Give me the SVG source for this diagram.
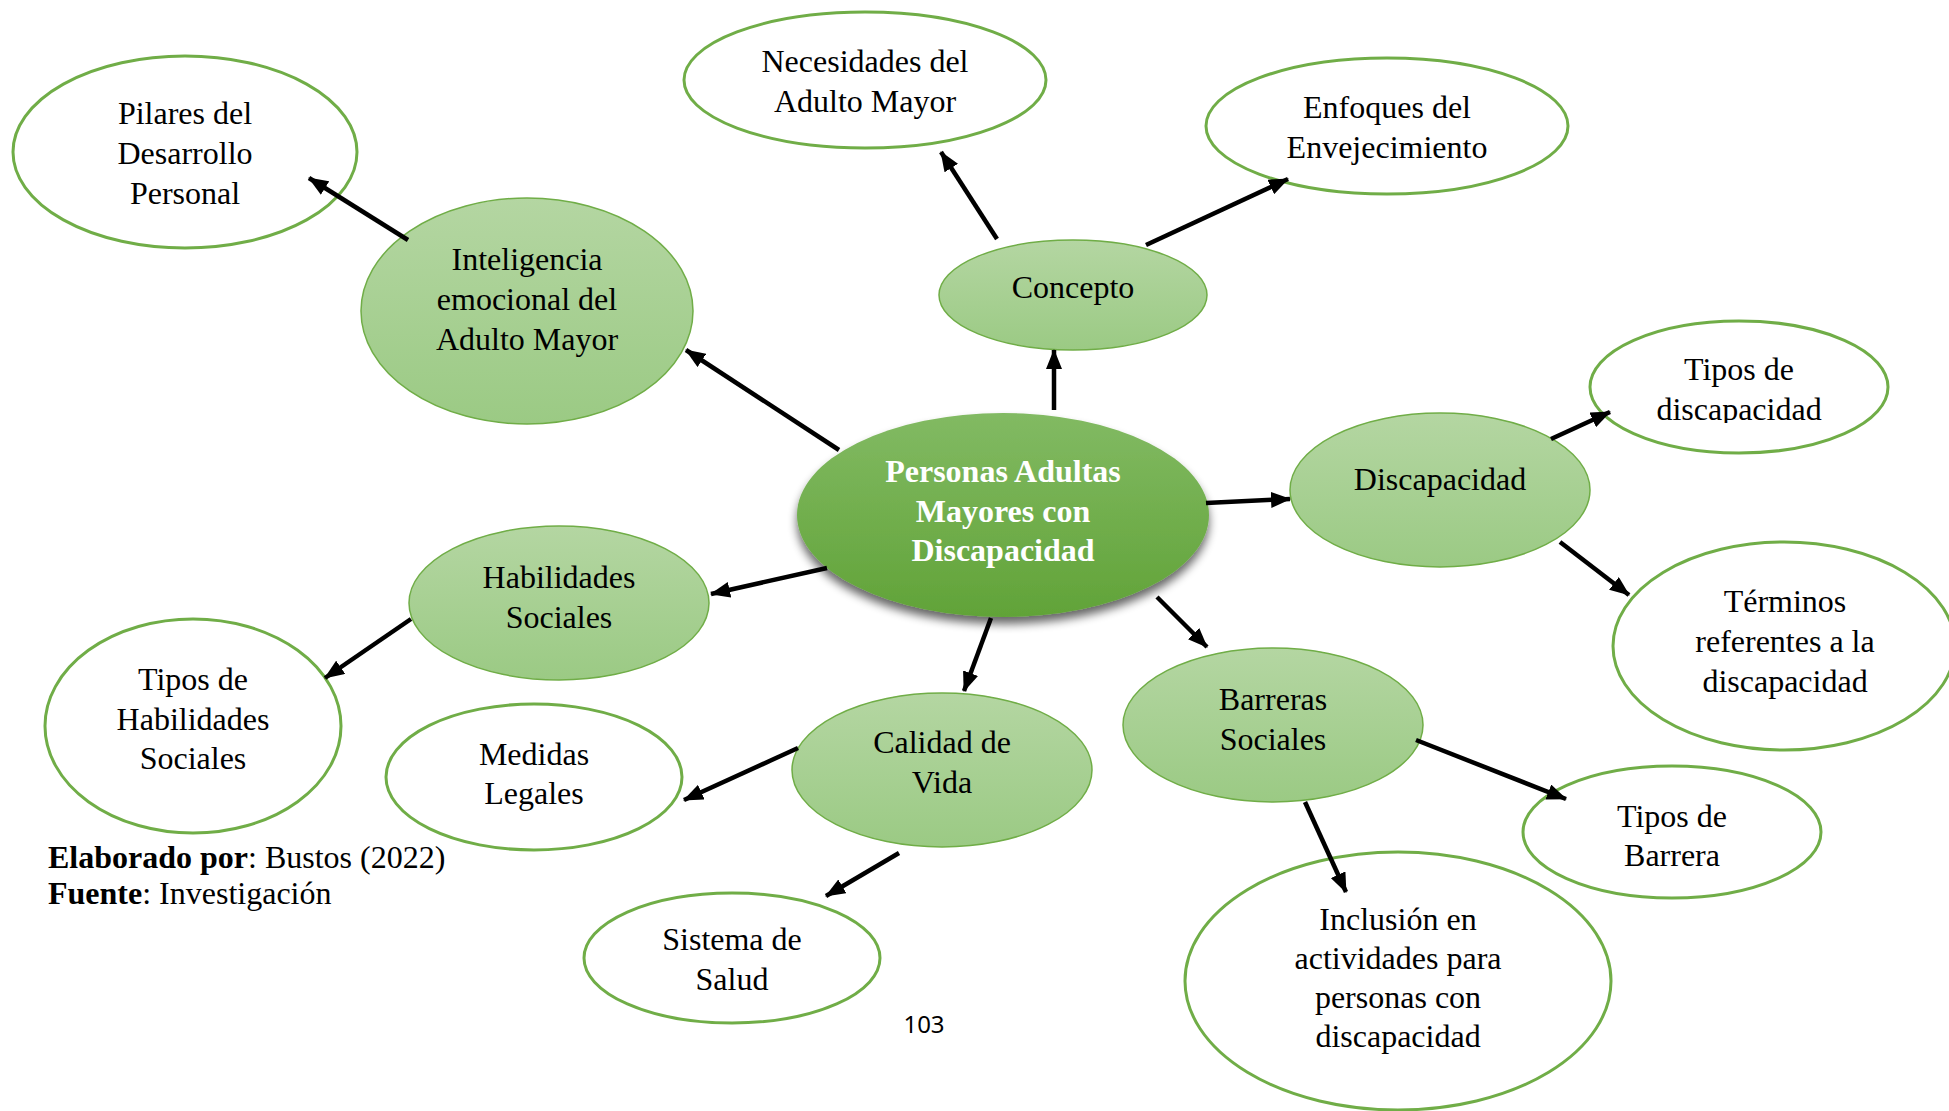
<svg xmlns="http://www.w3.org/2000/svg" width="1949" height="1111" viewBox="0 0 1949 1111">
<style>
.t{font-family:"Liberation Serif","Times New Roman",serif;font-size:32px;fill:#000;text-anchor:middle}
.c{font-family:"Liberation Serif","Times New Roman",serif;font-size:32px;font-weight:bold;fill:#fff;text-anchor:middle}
.w{fill:#fff;stroke:#70ad47;stroke-width:3}
.g{fill:url(#lg);stroke:#70ad47;stroke-width:1.5}
.e{stroke:#000;stroke-width:4.5;fill:none;marker-end:url(#ah)}
.f{font-family:"Liberation Serif","Times New Roman",serif;font-size:32px;fill:#000}
</style>
<defs>
<linearGradient id="lg" x1="0" y1="0" x2="0" y2="1">
<stop offset="0" stop-color="#b4d6a2"/>
<stop offset="1" stop-color="#9bca84"/>
</linearGradient>
<linearGradient id="cg" x1="0" y1="0" x2="0" y2="1">
<stop offset="0" stop-color="#82ba63"/>
<stop offset="1" stop-color="#61a338"/>
</linearGradient>
<filter id="sh" x="-20%" y="-20%" width="140%" height="150%">
<feGaussianBlur in="SourceAlpha" stdDeviation="5"/>
<feOffset dx="0" dy="7" result="b"/>
<feComponentTransfer><feFuncA type="linear" slope="0.6"/></feComponentTransfer>
<feMerge><feMergeNode/><feMergeNode in="SourceGraphic"/></feMerge>
</filter>
<marker id="ah" markerUnits="userSpaceOnUse" markerWidth="20" markerHeight="16" refX="19" refY="8" orient="auto">
<path d="M0,0 L20,8 L0,16 z" fill="#000"/>
</marker>
<clipPath id="clipTD"><rect x="1580" y="300" width="320" height="123"/></clipPath>
</defs>
<rect width="1949" height="1111" fill="#fff"/>

<g id="n-central">
<ellipse cx="1003" cy="515" rx="206" ry="102" fill="url(#cg)" filter="url(#sh)"/>
<text class="c" x="1003" y="482">Personas Adultas</text>
<text class="c" x="1003" y="522">Mayores con</text>
<text class="c" x="1003" y="561">Discapacidad</text>
</g>

<g id="n-pilares">
<ellipse class="w" cx="185" cy="152" rx="172" ry="96"/>
<text class="t" x="185" y="124">Pilares del</text>
<text class="t" x="185" y="164">Desarrollo</text>
<text class="t" x="185" y="204">Personal</text>
</g>

<g id="n-inteligencia">
<ellipse class="g" cx="527" cy="311" rx="166" ry="113"/>
<text class="t" x="527" y="270">Inteligencia</text>
<text class="t" x="527" y="310">emocional del</text>
<text class="t" x="527" y="350">Adulto Mayor</text>
</g>

<g id="n-necesidades">
<ellipse class="w" cx="865" cy="80" rx="181" ry="68"/>
<text class="t" x="865" y="72">Necesidades del</text>
<text class="t" x="865" y="112">Adulto Mayor</text>
</g>

<g id="n-enfoques">
<ellipse class="w" cx="1387" cy="126" rx="181" ry="68"/>
<text class="t" x="1387" y="118">Enfoques del</text>
<text class="t" x="1387" y="158">Envejecimiento</text>
</g>

<g id="n-concepto">
<ellipse class="g" cx="1073" cy="295" rx="134" ry="55"/>
<text class="t" x="1073" y="298">Concepto</text>
</g>

<g id="n-discapacidad">
<ellipse class="g" cx="1440" cy="490" rx="150" ry="77"/>
<text class="t" x="1440" y="490">Discapacidad</text>
</g>

<g id="n-tipos-discapacidad">
<ellipse class="w" cx="1739" cy="387" rx="149" ry="66"/>
<g clip-path="url(#clipTD)">
<text class="t" x="1739" y="380">Tipos de</text>
<text class="t" x="1739" y="420">discapacidad</text>
</g>
</g>

<g id="n-terminos">
<ellipse class="w" cx="1784" cy="646" rx="171" ry="104"/>
<text class="t" x="1785" y="612">Términos</text>
<text class="t" x="1785" y="652">referentes a la</text>
<text class="t" x="1785" y="692">discapacidad</text>
</g>

<g id="n-barreras">
<ellipse class="g" cx="1273" cy="725" rx="150" ry="77"/>
<text class="t" x="1273" y="710">Barreras</text>
<text class="t" x="1273" y="750">Sociales</text>
</g>

<g id="n-tipos-barrera">
<ellipse class="w" cx="1672" cy="832" rx="149" ry="66"/>
<text class="t" x="1672" y="827">Tipos de</text>
<text class="t" x="1672" y="866">Barrera</text>
</g>

<g id="n-inclusion">
<ellipse class="w" cx="1398" cy="981" rx="213" ry="129"/>
<text class="t" x="1398" y="930">Inclusión en</text>
<text class="t" x="1398" y="969">actividades para</text>
<text class="t" x="1398" y="1008">personas con</text>
<text class="t" x="1398" y="1047">discapacidad</text>
</g>

<g id="n-habilidades">
<ellipse class="g" cx="559" cy="603" rx="150" ry="77"/>
<text class="t" x="559" y="588">Habilidades</text>
<text class="t" x="559" y="628">Sociales</text>
</g>

<g id="n-tipos-habilidades">
<ellipse class="w" cx="193" cy="726" rx="148" ry="107"/>
<text class="t" x="193" y="690">Tipos de</text>
<text class="t" x="193" y="730">Habilidades</text>
<text class="t" x="193" y="769">Sociales</text>
</g>

<g id="n-medidas">
<ellipse class="w" cx="534" cy="777" rx="148" ry="73"/>
<text class="t" x="534" y="765">Medidas</text>
<text class="t" x="534" y="804">Legales</text>
</g>

<g id="n-calidad">
<ellipse class="g" cx="942" cy="770" rx="150" ry="77"/>
<text class="t" x="942" y="753">Calidad de</text>
<text class="t" x="942" y="793">Vida</text>
</g>

<g id="n-sistema">
<ellipse class="w" cx="732" cy="958" rx="148" ry="65"/>
<text class="t" x="732" y="950">Sistema de</text>
<text class="t" x="732" y="990">Salud</text>
</g>

<g id="connectors">
<line class="e" x1="839" y1="450" x2="686" y2="350"/>
<line class="e" x1="408" y1="240" x2="309" y2="178"/>
<line class="e" x1="1054" y1="410" x2="1054" y2="350"/>
<line class="e" x1="997" y1="239" x2="941" y2="152"/>
<line class="e" x1="1146" y1="245" x2="1288" y2="179"/>
<line class="e" x1="1206" y1="503" x2="1290" y2="499"/>
<line class="e" x1="1551" y1="439" x2="1610" y2="412"/>
<line class="e" x1="1560" y1="542" x2="1629" y2="595"/>
<line class="e" x1="1157" y1="597" x2="1207" y2="647"/>
<line class="e" x1="1416" y1="740" x2="1566" y2="799"/>
<line class="e" x1="1305" y1="802" x2="1346" y2="892"/>
<line class="e" x1="827" y1="568" x2="711" y2="594"/>
<line class="e" x1="411" y1="619" x2="325" y2="678"/>
<line class="e" x1="991" y1="618" x2="964" y2="691"/>
<line class="e" x1="798" y1="748" x2="684" y2="800"/>
<line class="e" x1="899" y1="853" x2="826" y2="896"/>
</g>

<text class="f" x="48" y="868"><tspan font-weight="bold">Elaborado por</tspan>: Bustos (2022)</text>
<text class="f" x="48" y="904"><tspan font-weight="bold">Fuente</tspan>: Investigación</text>
<text x="924" y="1033" font-family="Noto Sans, sans-serif" font-size="24" text-anchor="middle" fill="#000">103</text>
</svg>
